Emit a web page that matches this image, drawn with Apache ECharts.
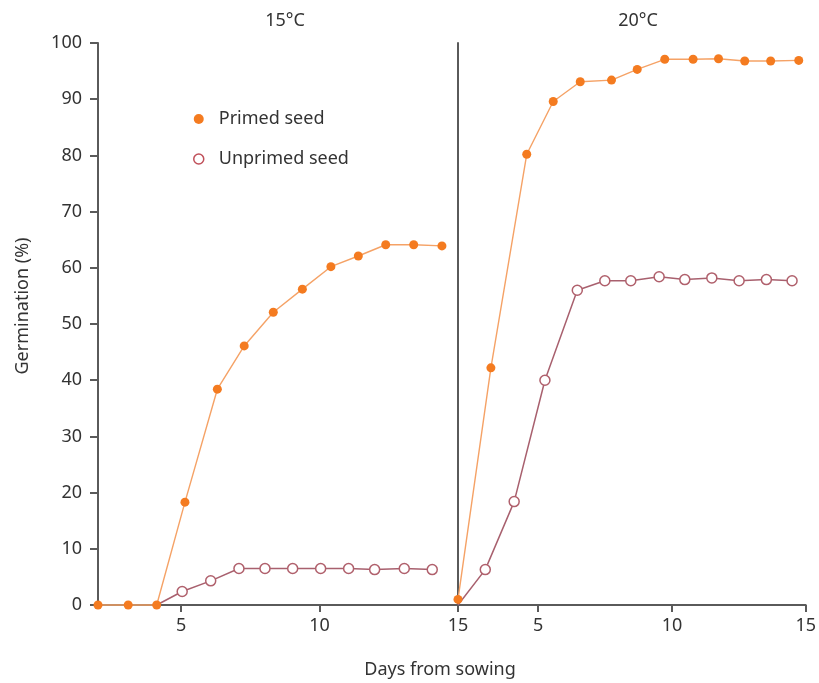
<!DOCTYPE html>
<html>
<head>
<meta charset="utf-8">
<title>Germination of primed and unprimed seed</title>
<script src="https://cdn.jsdelivr.net/npm/echarts@6/dist/echarts.min.js"></script>
<style>
  html, body { margin: 0; padding: 0; background: #fff; }
  #chart { width: 819px; height: 683px; }
</style>
</head>
<body>
<div id="chart"></div>
<script>
// Panel titles and axis labels
const panelTitles = ['15°C', '20°C'];
const yAxisName = 'Germination (%)';
const xAxisName = 'Days from sowing';
const seriesNames = ['Primed seed', 'Unprimed seed'];
const xTickValues = [5, 10, 15];

// 15°C panel: days from sowing and germination (%)
const days15Primed = [2, 3.09, 4.12, 5.14, 6.31, 7.28, 8.33, 9.38, 10.41, 11.4, 12.39, 13.4, 14.42];
const germ15Primed = [0, 0, 0, 18.3, 38.4, 46.1, 52.1, 56.2, 60.2, 62.1, 64.1, 64.1, 63.9];
const days15Unprimed = [4.12, 5.04, 6.07, 7.09, 8.03, 9.03, 10.04, 11.05, 11.99, 13.06, 14.07];
const germ15Unprimed = [0, 2.4, 4.3, 6.5, 6.5, 6.5, 6.5, 6.5, 6.3, 6.5, 6.3];

// 20°C panel
const days20Primed = [2, 3.23, 4.57, 5.56, 6.57, 7.74, 8.7, 9.73, 10.79, 11.74, 12.72, 13.69, 14.74];
const germ20Primed = [1.0, 42.2, 80.2, 89.6, 93.1, 93.4, 95.3, 97.1, 97.1, 97.2, 96.8, 96.8, 96.9];
const days20Unprimed = [2, 3.02, 4.1, 5.25, 6.46, 7.49, 8.46, 9.52, 10.48, 11.49, 12.51, 13.53, 14.49];
const germ20Unprimed = [0, 6.3, 18.4, 40.0, 56.0, 57.7, 57.7, 58.4, 57.9, 58.2, 57.7, 57.9, 57.7];

const FONT = '"Noto Sans", "DejaVu Sans", sans-serif';
const TEXT = '#333';
const AXIS = '#5a5a5a';
const ORANGE = '#f47b20';
const ORANGE_LINE = '#f5a266';
const MAUVE = '#a8606e';
const MAUVE_RING = '#b0606c';

// the first unprimed point sits under the primed marker, so only the line is drawn from it
function pairs(xs, ys, hideFirst) {
  return xs.map((x, i) => {
    const item = { value: [x, ys[i]] };
    if (hideFirst && i === 0) item.symbol = 'none';
    return item;
  });
}

function xAxisFor(gridIndex) {
  return {
    type: 'value', gridIndex, min: 2, max: 15,
    axisLine: { show: true, lineStyle: { color: AXIS, width: 2 } },
    axisTick: { show: true, customValues: xTickValues, length: 7, inside: false,
                lineStyle: { color: AXIS, width: 2 } },
    axisLabel: { show: true, customValues: xTickValues, margin: 12,
                 color: TEXT, fontFamily: FONT, fontSize: 18 },
    splitLine: { show: false }
  };
}

function yAxisFor(gridIndex, showLabels) {
  return {
    type: 'value', gridIndex, min: 0, max: 100, interval: 10,
    axisLine: { show: true, lineStyle: { color: AXIS, width: 2 } },
    axisTick: { show: showLabels, length: 8, lineStyle: { color: AXIS, width: 2 } },
    axisLabel: { show: showLabels, margin: 16, color: TEXT, fontFamily: FONT, fontSize: 18 },
    splitLine: { show: false }
  };
}

function primedSeries(idx, xs, ys) {
  return {
    name: seriesNames[0], type: 'line', xAxisIndex: idx, yAxisIndex: idx,
    data: pairs(xs, ys, false),
    symbol: 'circle', symbolSize: 9,
    itemStyle: { color: ORANGE },
    lineStyle: { color: ORANGE_LINE, width: 1.4 },
    z: 4, clip: false, animation: false
  };
}

function unprimedSeries(idx, xs, ys) {
  return {
    name: seriesNames[1], type: 'line', xAxisIndex: idx, yAxisIndex: idx,
    data: pairs(xs, ys, true),
    symbol: 'circle', symbolSize: 10,
    itemStyle: { color: '#fff', borderColor: MAUVE_RING, borderWidth: 1.5 },
    lineStyle: { color: MAUVE, width: 1.5 },
    z: 3, clip: false, animation: false
  };
}

const chart = echarts.init(document.getElementById('chart'), null, { renderer: 'canvas' });

chart.setOption({
  backgroundColor: '#fff',
  animation: false,
  grid: [
    { left: 98, top: 43, width: 360, height: 562 },
    { left: 458, top: 43, width: 348, height: 562 }
  ],
  xAxis: [xAxisFor(0), xAxisFor(1)],
  yAxis: [yAxisFor(0, true), yAxisFor(1, false)],
  legend: {
    orient: 'vertical', left: 188, top: 105,
    itemWidth: 30, itemHeight: 10, itemGap: 22,
    textStyle: { color: TEXT, fontFamily: FONT, fontSize: 18 },
    data: [
      { name: seriesNames[0], icon: 'circle', itemStyle: { color: ORANGE, borderWidth: 0 } },
      { name: seriesNames[1], icon: 'circle',
        itemStyle: { color: '#fff', borderColor: '#c0505a', borderWidth: 1.5 } }
    ],
    selectedMode: false
  },
  graphic: [
    { type: 'text', x: 285, y: 21, style: { text: panelTitles[0], font: '18px ' + FONT, fill: TEXT, align: 'center', verticalAlign: 'middle' } },
    { type: 'text', x: 638, y: 21, style: { text: panelTitles[1], font: '18px ' + FONT, fill: TEXT, align: 'center', verticalAlign: 'middle' } },
    { type: 'text', x: 23, y: 306, rotation: Math.PI / 2, style: { text: yAxisName, font: '18px ' + FONT, fill: TEXT, align: 'center', verticalAlign: 'middle' } },
    { type: 'text', x: 440, y: 670, style: { text: xAxisName, font: '18px ' + FONT, fill: TEXT, align: 'center', verticalAlign: 'middle' } }
  ],
  series: [
    unprimedSeries(0, days15Unprimed, germ15Unprimed),
    primedSeries(0, days15Primed, germ15Primed),
    unprimedSeries(1, days20Unprimed, germ20Unprimed),
    primedSeries(1, days20Primed, germ20Primed)
  ]
});
</script>
</body>
</html>
